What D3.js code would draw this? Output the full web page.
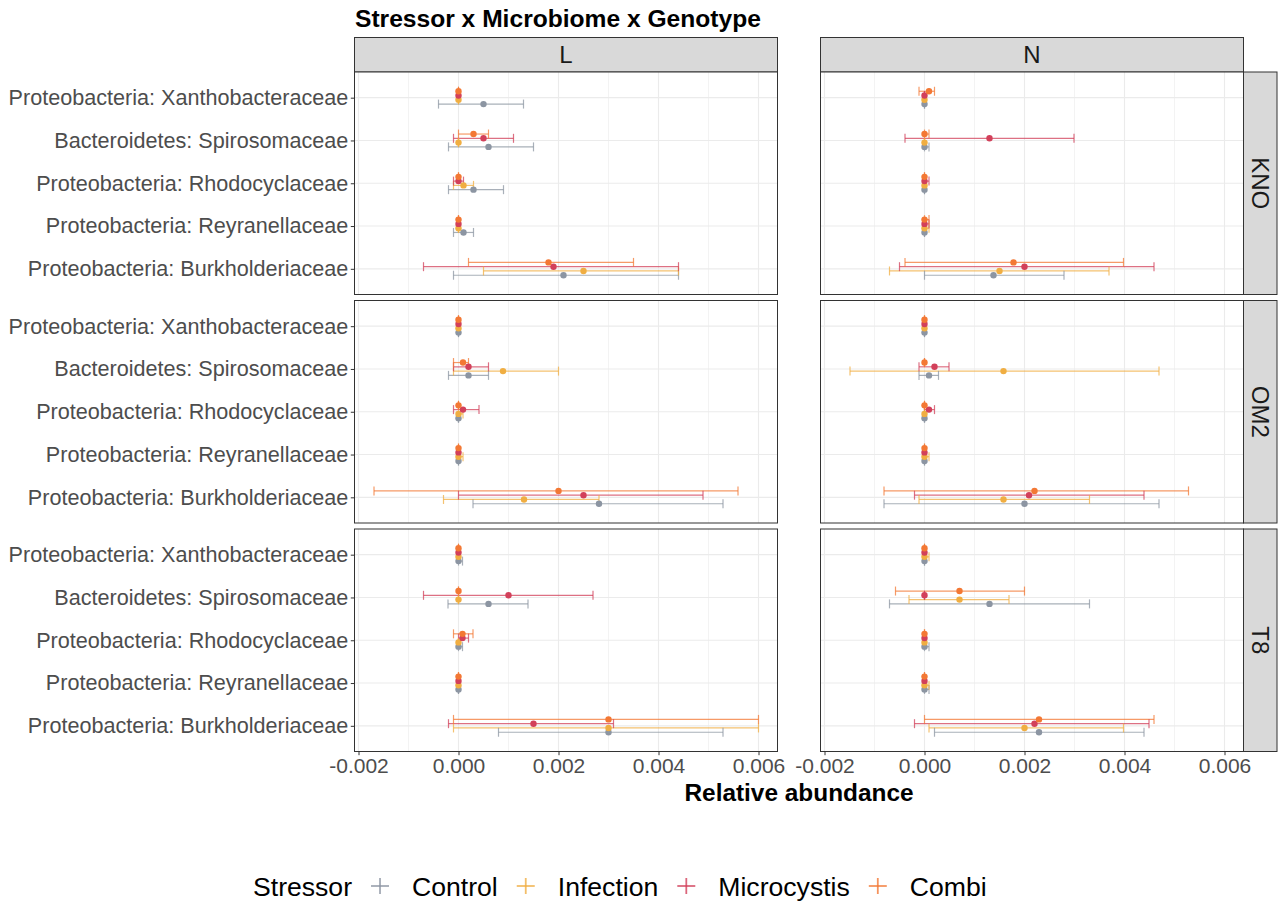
<!DOCTYPE html>
<html>
<head>
<meta charset="utf-8">
<script src="https://cdn.jsdelivr.net/npm/d3@7"></script>
<style>
  body { margin: 0; background: #fff; }
  svg text { font-family: "Liberation Sans", Arial, sans-serif; }
</style>
</head>
<body>
<div id="chart"></div>
<script>
const categories = [
  'Proteobacteria: Xanthobacteraceae',
  'Bacteroidetes: Spirosomaceae',
  'Proteobacteria: Rhodocyclaceae',
  'Proteobacteria: Reyranellaceae',
  'Proteobacteria: Burkholderiaceae',
];
const stressors = ['Control', 'Infection', 'Microcystis', 'Combi'];
const colors = ['#8c95a2', '#f0ae42', '#d2405a', '#f37834'];
const genotypes = ['KNO', 'OM2', 'T8'];
const microbiomes = ['L', 'N'];
const xTicks = [-0.002, 0, 0.002, 0.004, 0.006];
const xMinor = [-0.001, 0.001, 0.003, 0.005];

// rows follow `stressors`, columns follow `categories`
const KNO_L_mean = [[0.0005, 0.0006, 0.0003, 0.0001, 0.0021], [0, 0, 0.0001, 0, 0.0025], [0, 0.0005, 0, 0, 0.0019], [0, 0.0003, 0, 0, 0.0018]];
const KNO_L_lo = [[-0.0004, -0.0002, -0.0002, -0.0001, -0.0001], [0, 0, -0.0001, 0, 0.0005], [0, -0.0001, -0.0001, 0, -0.0007], [0, 0, 0, 0, 0.0002]];
const KNO_L_hi = [[0.0013, 0.0015, 0.0009, 0.0003, 0.0044], [0, 0, 0.0003, 0, 0.0044], [0, 0.0011, 0.0001, 0, 0.0044], [0, 0.0006, 0, 0, 0.0035]];

const KNO_N_mean = [[0, 0, 0, 0, 0.00138], [0, 0, 0, 0, 0.0015], [0, 0.0013, 0, 0, 0.002], [0.00009, 0, 0, 0, 0.00178]];
const KNO_N_lo = [[0, 0, 0, 0, 0], [0, 0, 0, 0, -0.0007], [0, -0.00039, 0, 0, -0.0005], [-0.00011, 0, 0, 0, -0.00039]];
const KNO_N_hi = [[0, 0.00009, 0, 0, 0.00279], [0, 0, 0, 0.00009, 0.00369], [0, 0.00299, 0.00009, 0.00009, 0.00459], [0.0002, 0.00009, 0, 0.00009, 0.00398]];

const OM2_L_mean = [[0, 0.0002, 0, 0, 0.00281], [0, 0.00089, 0, 0, 0.00131], [0, 0.0002, 0.00009, 0, 0.0025], [0, 0.00009, 0, 0, 0.002]];
const OM2_L_lo = [[0, -0.0002, 0, 0, 0.00029], [0, -0.0001, 0, 0, -0.0003], [0, -0.0001, -0.0001, 0, 0], [0, -0.0001, 0, 0, -0.00169]];
const OM2_L_hi = [[0, 0.0006, 0, 0, 0.00529], [0, 0.002, 0.00009, 0.00009, 0.00281], [0, 0.0006, 0.00041, 0, 0.00489], [0, 0.0002, 0, 0, 0.00559]];

const OM2_N_mean = [[0, 0.00009, 0, 0, 0.002], [0, 0.00158, 0, 0, 0.00158], [0, 0.0002, 0.00009, 0, 0.00209], [0, 0, 0, 0, 0.0022]];
const OM2_N_lo = [[0, -0.00011, 0, 0, -0.00081], [0, -0.00149, 0, 0, -0.00011], [0, -0.00011, 0, 0, -0.0002], [0, 0, 0, 0, -0.00081]];
const OM2_N_hi = [[0, 0.00028, 0, 0, 0.00469], [0, 0.00469, 0, 0.00009, 0.0033], [0, 0.00049, 0.0002, 0, 0.00439], [0, 0, 0, 0, 0.00528]];

const T8_L_mean = [[0, 0.0006, 0, 0, 0.003], [0, 0, 0, 0, 0.003], [0, 0.001, 0.00008, 0, 0.0015], [0, 0, 0.00008, 0, 0.003]];
const T8_L_lo = [[0, -0.00021, 0, 0, 0.0008], [0, 0, 0, 0, -0.0001], [0, -0.0007, 0, 0, -0.0002], [0, 0, -0.0001, 0, -0.0001]];
const T8_L_hi = [[0.00008, 0.00139, 0.00008, 0, 0.00529], [0, 0, 0, 0, 0.006], [0, 0.00269, 0.0002, 0, 0.0031], [0, 0, 0.00029, 0, 0.006]];

const T8_N_mean = [[0, 0.0013, 0, 0, 0.00229], [0, 0.0007, 0, 0, 0.002], [0, 0, 0, 0, 0.0022], [0, 0.0007, 0, 0, 0.00229]];
const T8_N_lo = [[0, -0.0007, 0, 0, 0.0002], [0, -0.00031, 0, 0, 0.00009], [0, 0, 0, 0, -0.0002], [0, -0.00058, 0, 0, 0]];
const T8_N_hi = [[0, 0.0033, 0.00009, 0.00009, 0.00439], [0.00009, 0.00169, 0, 0.00009, 0.00398], [0, 0, 0, 0, 0.00449], [0, 0.002, 0, 0, 0.00459]];

const panelData = {
  KNO_L: [KNO_L_mean, KNO_L_lo, KNO_L_hi],
  KNO_N: [KNO_N_mean, KNO_N_lo, KNO_N_hi],
  OM2_L: [OM2_L_mean, OM2_L_lo, OM2_L_hi],
  OM2_N: [OM2_N_mean, OM2_N_lo, OM2_N_hi],
  T8_L: [T8_L_mean, T8_L_lo, T8_L_hi],
  T8_N: [T8_N_mean, T8_N_lo, T8_N_hi],
};

const width = 1284, height = 903;
const panelW = 423, panelH = 222.5;
const colX = [354.5, 820.5];
const rowY = [72, 300.5, 529];
const stripH = 34.5, stripW = 33.5;

const svg = d3.select('#chart').append('svg')
  .attr('width', width)
  .attr('height', height);

const x = d3.scaleLinear().domain([-0.00208, 0.00638]).range([0, panelW]);
const y = d3.scalePoint().domain(categories).range([0, panelH]).padding(0.6);
const dodge = d3.scalePoint()
  .domain(['Combi', 'Microcystis', 'Infection', 'Control'])
  .range([-0.15 * y.step(), 0.15 * y.step()]);
const color = d3.scaleOrdinal().domain(stressors).range(colors);
const fmt = d3.formatLocale({decimal: '.', thousands: ',', grouping: [3], currency: ['', ''], minus: '-'}).format('.3f');

// title
svg.append('text')
  .attr('x', colX[0] + 0.5)
  .attr('y', 27)
  .attr('font-size', 24.6)
  .attr('font-weight', 'bold')
  .attr('fill', '#000')
  .text('Stressor x Microbiome x Genotype');

// top strips
microbiomes.forEach((m, ci) => {
  const g = svg.append('g').attr('transform', `translate(${colX[ci]},${rowY[0] - stripH})`);
  g.append('rect')
    .attr('width', panelW).attr('height', stripH)
    .attr('fill', '#d9d9d9').attr('stroke', '#333').attr('stroke-width', 1);
  g.append('text')
    .attr('x', panelW / 2).attr('y', stripH / 2)
    .attr('dy', '0.36em')
    .attr('text-anchor', 'middle')
    .attr('font-size', 24)
    .attr('fill', '#1a1a1a')
    .text(m);
});

genotypes.forEach((gt, ri) => {
  // right strip
  const sg = svg.append('g').attr('transform', `translate(${colX[1] + panelW},${rowY[ri]})`);
  sg.append('rect')
    .attr('width', stripW).attr('height', panelH)
    .attr('fill', '#d9d9d9').attr('stroke', '#333').attr('stroke-width', 1);
  sg.append('text')
    .attr('transform', `translate(${stripW / 2},${panelH / 2}) rotate(90)`)
    .attr('dy', '0.36em')
    .attr('text-anchor', 'middle')
    .attr('font-size', 24)
    .attr('fill', '#1a1a1a')
    .text(gt);

  microbiomes.forEach((m, ci) => {
    const g = svg.append('g').attr('transform', `translate(${colX[ci]},${rowY[ri]})`);
    const [mean, lo, hi] = panelData[`${gt}_${m}`];

    g.append('rect').attr('width', panelW).attr('height', panelH).attr('fill', '#fff');

    // grid
    g.selectAll('.minor').data(xMinor).join('line')
      .attr('x1', d => x(d)).attr('x2', d => x(d))
      .attr('y1', 0).attr('y2', panelH)
      .attr('stroke', '#ebebeb').attr('stroke-width', 0.6);
    g.selectAll('.majorx').data(xTicks).join('line')
      .attr('x1', d => x(d)).attr('x2', d => x(d))
      .attr('y1', 0).attr('y2', panelH)
      .attr('stroke', '#ebebeb').attr('stroke-width', 1.1);
    g.selectAll('.majory').data(categories).join('line')
      .attr('x1', 0).attr('x2', panelW)
      .attr('y1', d => y(d)).attr('y2', d => y(d))
      .attr('stroke', '#ebebeb').attr('stroke-width', 1.1);

    const rows = [];
    stressors.forEach((s, si) => {
      categories.forEach((c, k) => {
        rows.push({s, c, mean: mean[si][k], lo: lo[si][k], hi: hi[si][k]});
      });
    });
    const yy = d => y(d.c) + dodge(d.s);

    const eb = g.append('g').attr('stroke-opacity', 0.75).attr('stroke-width', 1.2);
    eb.selectAll('.bar').data(rows).join('line')
      .attr('x1', d => x(d.lo)).attr('x2', d => x(d.hi))
      .attr('y1', yy).attr('y2', yy)
      .attr('stroke', d => color(d.s));
    eb.selectAll('.capl').data(rows).join('line')
      .attr('x1', d => x(d.lo)).attr('x2', d => x(d.lo))
      .attr('y1', d => yy(d) - 4.5).attr('y2', d => yy(d) + 4.5)
      .attr('stroke', d => color(d.s));
    eb.selectAll('.caph').data(rows).join('line')
      .attr('x1', d => x(d.hi)).attr('x2', d => x(d.hi))
      .attr('y1', d => yy(d) - 4.5).attr('y2', d => yy(d) + 4.5)
      .attr('stroke', d => color(d.s));

    g.append('g').selectAll('circle').data(rows).join('circle')
      .attr('cx', d => x(d.mean)).attr('cy', yy)
      .attr('r', 3.2)
      .attr('fill', d => color(d.s));

    g.append('rect').attr('width', panelW).attr('height', panelH)
      .attr('fill', 'none').attr('stroke', '#333').attr('stroke-width', 1);

    if (ci === 0) {
      const ya = g.append('g').call(d3.axisLeft(y).tickSize(3.7).tickPadding(2.5).tickSizeOuter(0));
      ya.select('.domain').remove();
      ya.selectAll('line').attr('stroke', '#333');
      ya.selectAll('text').attr('font-size', 21.6).attr('fill', '#4d4d4d')
        .style('font-family', '"Liberation Sans", Arial, sans-serif');
    }
    if (ri === genotypes.length - 1) {
      const xa = g.append('g').attr('transform', `translate(0,${panelH})`)
        .call(d3.axisBottom(x).tickValues(xTicks).tickFormat(fmt).tickSize(3.7).tickPadding(3).tickSizeOuter(0));
      xa.select('.domain').remove();
      xa.selectAll('line').attr('stroke', '#333');
      xa.selectAll('text').attr('font-size', 21).attr('fill', '#4d4d4d')
        .style('font-family', '"Liberation Sans", Arial, sans-serif');
    }
  });
});

// x axis title
svg.append('text')
  .attr('x', (colX[0] + colX[1] + panelW) / 2)
  .attr('y', 801)
  .attr('text-anchor', 'middle')
  .attr('font-size', 24.4)
  .attr('font-weight', 'bold')
  .attr('fill', '#000')
  .text('Relative abundance');

// legend
const leg = svg.append('g').attr('transform', 'translate(253,896)');
const legTitle = leg.append('text')
  .attr('font-size', 26.6).attr('fill', '#000').text('Stressor');
let cursor = legTitle.node().getComputedTextLength();
stressors.forEach((s) => {
  const kx = cursor + 28;
  const key = leg.append('g').attr('transform', `translate(${kx},-10)`).attr('stroke-opacity', 0.8);
  key.append('line').attr('x1', -9).attr('x2', 9).attr('stroke', color(s)).attr('stroke-width', 1.8);
  key.append('line').attr('y1', -8).attr('y2', 8).attr('stroke', color(s)).attr('stroke-width', 1.8);
  const t = leg.append('text')
    .attr('x', kx + 32)
    .attr('font-size', 26.6).attr('fill', '#000').text(s);
  cursor = kx + 32 + t.node().getComputedTextLength();
});
</script>
</body>
</html>
